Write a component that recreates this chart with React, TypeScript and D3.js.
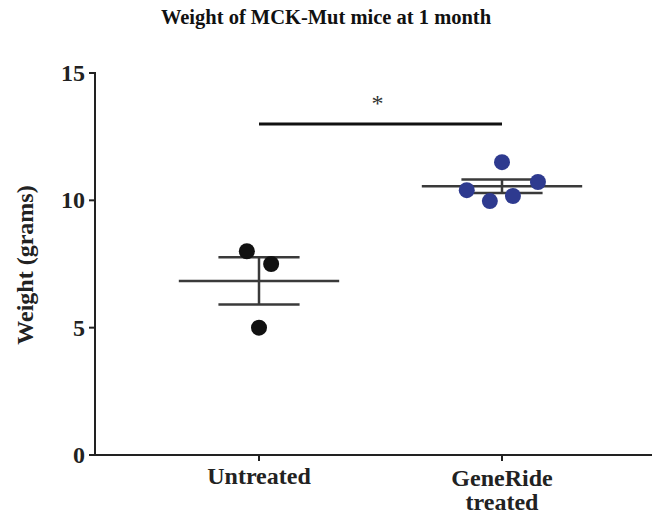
import React from "react";
import * as d3 from "d3";

const categories = ["Untreated", "GeneRide treated"];
const untreated = [8.0, 7.5, 5.0];
const geneRide = [11.5, 10.4, 9.97, 10.17, 10.72];
// horizontal spread of the dots, as a fraction of the category step
const untreatedJitter = [-0.05, 0.05, 0];
const geneRideJitter = [0, -0.145, -0.05, 0.045, 0.148];
const yTicks = [0, 5, 10, 15];
const sigLevel = 13;

const W = 652;
const H = 519;
const margin = { top: 73, right: 0, bottom: 64, left: 95 };
const font = "'Liberation Serif', 'Times New Roman', serif";

function meanSem(vals: number[]) {
  const m = d3.mean(vals) as number;
  const sd = d3.deviation(vals) as number;
  return { m, sem: sd / Math.sqrt(vals.length) };
}

export default function App() {
  const y = d3
    .scaleLinear()
    .domain([0, 15])
    .range([H - margin.bottom, margin.top]);
  const x = d3.scalePoint().domain(categories).range([259, 502]);
  const step = x.step();

  const groups = [
    { name: categories[0], vals: untreated, jit: untreatedJitter, color: "#111111" },
    { name: categories[1], vals: geneRide, jit: geneRideJitter, color: "#2e3a8f" },
  ];

  const x0 = margin.left;
  const yBase = y(0);
  const labelSize = 24;

  return (
    <svg
      width={W}
      height={H}
      style={{ position: "absolute", left: 0, top: 0, background: "#fff" }}
      fontFamily={font}
    >
      <text x={326} y={24} textAnchor="middle" fontSize={20.5} fontWeight="bold" fill="#111">
        Weight of MCK-Mut mice at 1 month
      </text>

      {/* y axis */}
      <line x1={x0} x2={x0} y1={y(15) - 1} y2={yBase} stroke="#222" strokeWidth={2} />
      {yTicks.map((t) => (
        <g key={t}>
          <line x1={x0 - 6} x2={x0} y1={y(t)} y2={y(t)} stroke="#222" strokeWidth={2} />
          <text
            x={x0 - 10}
            y={y(t)}
            dy="0.33em"
            textAnchor="end"
            fontSize={labelSize}
            fontWeight="bold"
            fill="#222"
          >
            {t}
          </text>
        </g>
      ))}
      <text
        transform={`translate(25,${y(7.5) + 1}) rotate(-90)`}
        textAnchor="middle"
        dy="0.33em"
        fontSize={labelSize}
        fontWeight="bold"
        fill="#222"
      >
        Weight (grams)
      </text>

      {/* x axis */}
      <line x1={x0} x2={W} y1={yBase} y2={yBase} stroke="#222" strokeWidth={2} />
      {categories.map((c) => (
        <line
          key={c}
          x1={x(c)}
          x2={x(c)}
          y1={yBase}
          y2={yBase + 6}
          stroke="#222"
          strokeWidth={2}
        />
      ))}
      <text x={x(categories[0])} y={yBase + 29} textAnchor="middle" fontSize={labelSize} fontWeight="bold" fill="#222">
        Untreated
      </text>
      <text x={x(categories[1])} y={yBase + 31} textAnchor="middle" fontSize={labelSize} fontWeight="bold" fill="#222">
        GeneRide
      </text>
      <text x={x(categories[1])} y={yBase + 55} textAnchor="middle" fontSize={labelSize} fontWeight="bold" fill="#222">
        treated
      </text>

      {/* mean and SEM */}
      {groups.map((g) => {
        const cx = x(g.name) as number;
        const { m, sem } = meanSem(g.vals);
        const halfMean = step * 0.33;
        const halfCap = step * 0.167;
        return (
          <g key={g.name} stroke="#3a3a3a" strokeWidth={2.5}>
            <line x1={cx - halfMean} x2={cx + halfMean} y1={y(m)} y2={y(m)} />
            <line x1={cx - halfCap} x2={cx + halfCap} y1={y(m + sem)} y2={y(m + sem)} />
            <line x1={cx - halfCap} x2={cx + halfCap} y1={y(m - sem)} y2={y(m - sem)} />
            <line x1={cx} x2={cx} y1={y(m + sem)} y2={y(m - sem)} />
          </g>
        );
      })}

      {/* dots */}
      {groups.map((g) =>
        g.vals.map((v, i) => (
          <circle
            key={g.name + i}
            cx={(x(g.name) as number) + g.jit[i] * step}
            cy={y(v)}
            r={8}
            fill={g.color}
          />
        ))
      )}

      {/* significance */}
      <line
        x1={x(categories[0])}
        x2={x(categories[1])}
        y1={y(sigLevel)}
        y2={y(sigLevel)}
        stroke="#111"
        strokeWidth={3}
      />
      <text
        x={((x(categories[0]) as number) + (x(categories[1]) as number)) / 2 - 3}
        y={y(sigLevel) - 13}
        textAnchor="middle"
        fontSize={24}
        fill="#333"
      >
        *
      </text>
    </svg>
  );
}
